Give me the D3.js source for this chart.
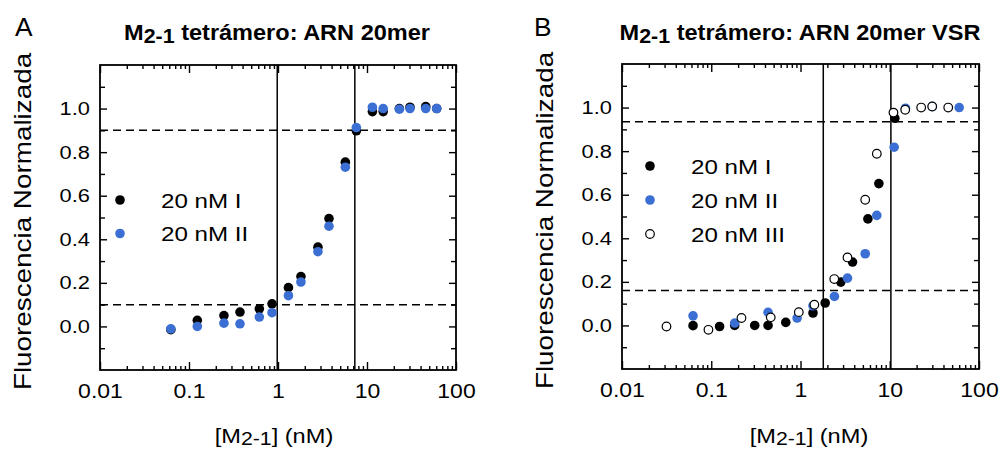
<!DOCTYPE html>
<html>
<head>
<meta charset="utf-8">
<script src="https://cdn.jsdelivr.net/npm/d3@7"></script>
<style>
body { margin: 0; background: #fff; }
</style>
</head>
<body>
<svg id="chart" width="1000" height="450"></svg>
<script>
// ---- data ----
// panel A: M2-1 tetramero, ARN 20mer
const concA = [0.0625, 0.124, 0.247, 0.374, 0.617, 0.857, 1.31, 1.81, 2.81, 3.74, 5.71, 7.59, 11.5, 15.2, 23.1, 30.4, 45.7, 60.7];
const aRunI  = [-0.015, 0.028, 0.05, 0.066, 0.081, 0.104, 0.178, 0.229, 0.364, 0.495, 0.754, 0.898, 0.986, 0.986, 1.0, 1.006, 1.009, 1.0];
const aRunII = [-0.011, 0.0, 0.015, 0.012, 0.043, 0.063, 0.141, 0.204, 0.343, 0.46, 0.731, 0.913, 1.006, 1.0, 0.997, 1.0, 1.0, 1.0];

// panel B: ARN 20mer VSR
const concB_I  = [0.0625, 0.124, 0.183, 0.307, 0.433, 0.684, 1.38, 1.89, 2.83, 3.83, 5.69, 7.55, 11.4];
const bRunI    = [-0.001, -0.005, 0.0, 0.0, 0.0, 0.014, 0.057, 0.103, 0.199, 0.291, 0.489, 0.651, 0.951];
const concB_II = [0.0625, 0.183, 0.433, 0.916, 1.38, 2.40, 3.36, 5.31, 7.16, 11.2, 15.0, 30.0, 60.0];
const bRunII   = [0.044, 0.011, 0.06, 0.034, 0.09, 0.133, 0.217, 0.329, 0.505, 0.818, 0.997, 1.005, 1.0];
const concB_III = [0.0315, 0.093, 0.218, 0.464, 0.957, 1.43, 2.39, 3.36, 5.31, 7.16, 11.0, 14.9, 22.5, 29.9, 45.2];
const bRunIII   = [-0.005, -0.02, 0.034, 0.037, 0.061, 0.095, 0.213, 0.312, 0.577, 0.788, 0.977, 0.99, 1.0, 1.005, 1.0];

// guide lines
const hLinesA = [0.1, 0.9];
const vLinesA = [0.98, 7.3];
const hLinesB = [0.16, 0.935];
const vLinesB = [1.8, 10.3];

// axes
const xTickValues = [0.01, 0.1, 1, 10, 100];
const xTickLabels = ["0.01", "0.1", "1", "10", "100"];
const yTickValues = [0, 0.2, 0.4, 0.6, 0.8, 1.0];
const yTickLabels = ["0.0", "0.2", "0.4", "0.6", "0.8", "1.0"];
const yMinorValues = [-0.1, 0.1, 0.3, 0.5, 0.7, 0.9, 1.1];

const FONT = "'Liberation Sans', Arial, Helvetica, sans-serif";
const BLUE = "#3b6fd4";
const K = 1.15; // text in the figure is a bit wide

const svg = d3.select("#chart");

// log minor ticks 2..9 per decade
const xMinorValues = [];
for (let e = -2; e < 2; e++) {
    for (let m = 2; m <= 9; m++) xMinorValues.push(m * Math.pow(10, e));
}

function wideText(parent, x, y, rot, size, k) {
    return parent.append("text")
        .attr("transform", `translate(${x},${y})` + (rot ? ` rotate(${rot})` : "") + ` scale(${k},1)`)
        .attr("font-family", FONT)
        .attr("font-size", size)
        .attr("fill", "#000");
}

function drawPanel(cfg) {
    const x = d3.scaleLog().domain([0.01, 100]).range([cfg.left, cfg.right]);
    const y = d3.scaleLinear().domain([-0.2, 1.2]).range([cfg.bottom, cfg.top]);
    const g = svg.append("g");

    // dashed horizontal guides
    g.selectAll(".hl").data(cfg.hLines).enter().append("line")
        .attr("x1", cfg.left).attr("x2", cfg.right)
        .attr("y1", d => y(d)).attr("y2", d => y(d))
        .attr("stroke", "#000").attr("stroke-width", 1.5)
        .attr("stroke-dasharray", "8,5");

    // vertical solid guides
    g.selectAll(".vl").data(cfg.vLines).enter().append("line")
        .attr("x1", d => x(d)).attr("x2", d => x(d))
        .attr("y1", cfg.top).attr("y2", cfg.bottom)
        .attr("stroke", "#000").attr("stroke-width", 1.5);

    // bottom axis + labels
    const bottom = g.append("g").attr("transform", `translate(0,${cfg.bottom})`)
        .call(d3.axisBottom(x).tickValues(xTickValues).tickSize(-8).tickPadding(14)
            .tickFormat((d, i) => xTickLabels[i]));
    bottom.selectAll("text").attr("font-size", 20).attr("font-family", FONT)
        .attr("transform", `scale(${K},1)`);
    g.append("g").attr("transform", `translate(0,${cfg.bottom})`)
        .call(d3.axisBottom(x).tickValues(xMinorValues).tickSize(-4).tickFormat(""));

    // top axis, ticks only
    g.append("g").attr("transform", `translate(0,${cfg.top})`)
        .call(d3.axisTop(x).tickValues(xTickValues).tickSize(-8).tickFormat(""));
    g.append("g").attr("transform", `translate(0,${cfg.top})`)
        .call(d3.axisTop(x).tickValues(xMinorValues).tickSize(-4).tickFormat(""));

    // left axis + labels
    const left = g.append("g").attr("transform", `translate(${cfg.left},0)`)
        .call(d3.axisLeft(y).tickValues(yTickValues).tickSize(-7).tickPadding(8.7)
            .tickFormat((d, i) => yTickLabels[i]));
    left.selectAll("text").attr("font-size", 19).attr("font-family", FONT)
        .attr("transform", `scale(${K},1)`);
    g.append("g").attr("transform", `translate(${cfg.left},0)`)
        .call(d3.axisLeft(y).tickValues(yMinorValues).tickSize(-5).tickFormat(""));

    // right axis, ticks only
    g.append("g").attr("transform", `translate(${cfg.right},0)`)
        .call(d3.axisRight(y).tickValues(yTickValues).tickSize(-7).tickFormat(""));
    g.append("g").attr("transform", `translate(${cfg.right},0)`)
        .call(d3.axisRight(y).tickValues(yMinorValues).tickSize(-5).tickFormat(""));

    g.selectAll(".domain").remove();
    g.selectAll(".tick line").attr("stroke", "#000").attr("stroke-width", 1.4);

    // frame
    g.append("rect")
        .attr("x", cfg.left).attr("y", cfg.top)
        .attr("width", cfg.right - cfg.left).attr("height", cfg.bottom - cfg.top)
        .attr("fill", "none").attr("stroke", "#000").attr("stroke-width", 1.8);

    // data points
    cfg.series.forEach(s => {
        g.append("g").selectAll("circle")
            .data(s.conc.map((c, i) => [c, s.vals[i]]))
            .enter().append("circle")
            .attr("cx", d => x(d[0]))
            .attr("cy", d => y(d[1]))
            .attr("r", s.open ? 4.3 : 4.8)
            .attr("fill", s.fill)
            .attr("stroke", s.open ? "#000" : "none")
            .attr("stroke-width", 1.2);
    });

    // legend
    cfg.series.forEach((s, i) => {
        const ly = cfg.legendY + i * cfg.legendStep;
        g.append("circle")
            .attr("cx", cfg.legendX).attr("cy", ly)
            .attr("r", s.open ? 4.3 : 4.8)
            .attr("fill", s.fill)
            .attr("stroke", s.open ? "#000" : "none")
            .attr("stroke-width", 1.2);
        wideText(g, cfg.legendX + 41, ly + 7.5, 0, 21, K).text(s.label);
    });

    // panel letter
    wideText(g, cfg.letterX, 36, 0, 25, 1.05).text(cfg.letter);

    // title with lowered "2-1"
    const t = wideText(g, cfg.titleX, 40, 0, 22, 1.07)
        .attr("font-weight", "bold").attr("text-anchor", "middle");
    t.append("tspan").text("M");
    t.append("tspan").attr("font-size", 20).attr("dy", 3).text("2-1");
    t.append("tspan").attr("dy", -3).text(cfg.title);

    // y label
    wideText(g, cfg.yLabelX, (cfg.top + cfg.bottom) / 2 + 4, -90, 24, 1.16)
        .attr("text-anchor", "middle").text("Fluorescencia Normalizada");

    // x label
    const xl = wideText(g, cfg.xLabelX, 443, 0, 20, 1.18).attr("text-anchor", "middle");
    xl.append("tspan").text("[M");
    xl.append("tspan").attr("font-size", 18).attr("dy", 2).text("2-1");
    xl.append("tspan").attr("dy", -2).text("] (nM)");
}

drawPanel({
    left: 100, right: 456, top: 65, bottom: 370,
    hLines: hLinesA, vLines: vLinesA,
    series: [
        { conc: concA, vals: aRunI, fill: "#000", label: "20 nM I" },
        { conc: concA, vals: aRunII, fill: BLUE, label: "20 nM II" }
    ],
    legendX: 120, legendY: 200, legendStep: 33.5,
    letter: "A", letterX: 15,
    title: " tetrámero: ARN 20mer", titleX: 277,
    yLabelX: 31, xLabelX: 274
});

drawPanel({
    left: 622, right: 979, top: 64, bottom: 369,
    hLines: hLinesB, vLines: vLinesB,
    series: [
        { conc: concB_I, vals: bRunI, fill: "#000", label: "20 nM I" },
        { conc: concB_II, vals: bRunII, fill: BLUE, label: "20 nM II" },
        { conc: concB_III, vals: bRunIII, fill: "#fff", open: true, label: "20 nM III" }
    ],
    legendX: 650, legendY: 166, legendStep: 34,
    letter: "B", letterX: 534,
    title: " tetrámero: ARN 20mer VSR", titleX: 800,
    yLabelX: 553, xLabelX: 809
});
</script>
</body>
</html>
